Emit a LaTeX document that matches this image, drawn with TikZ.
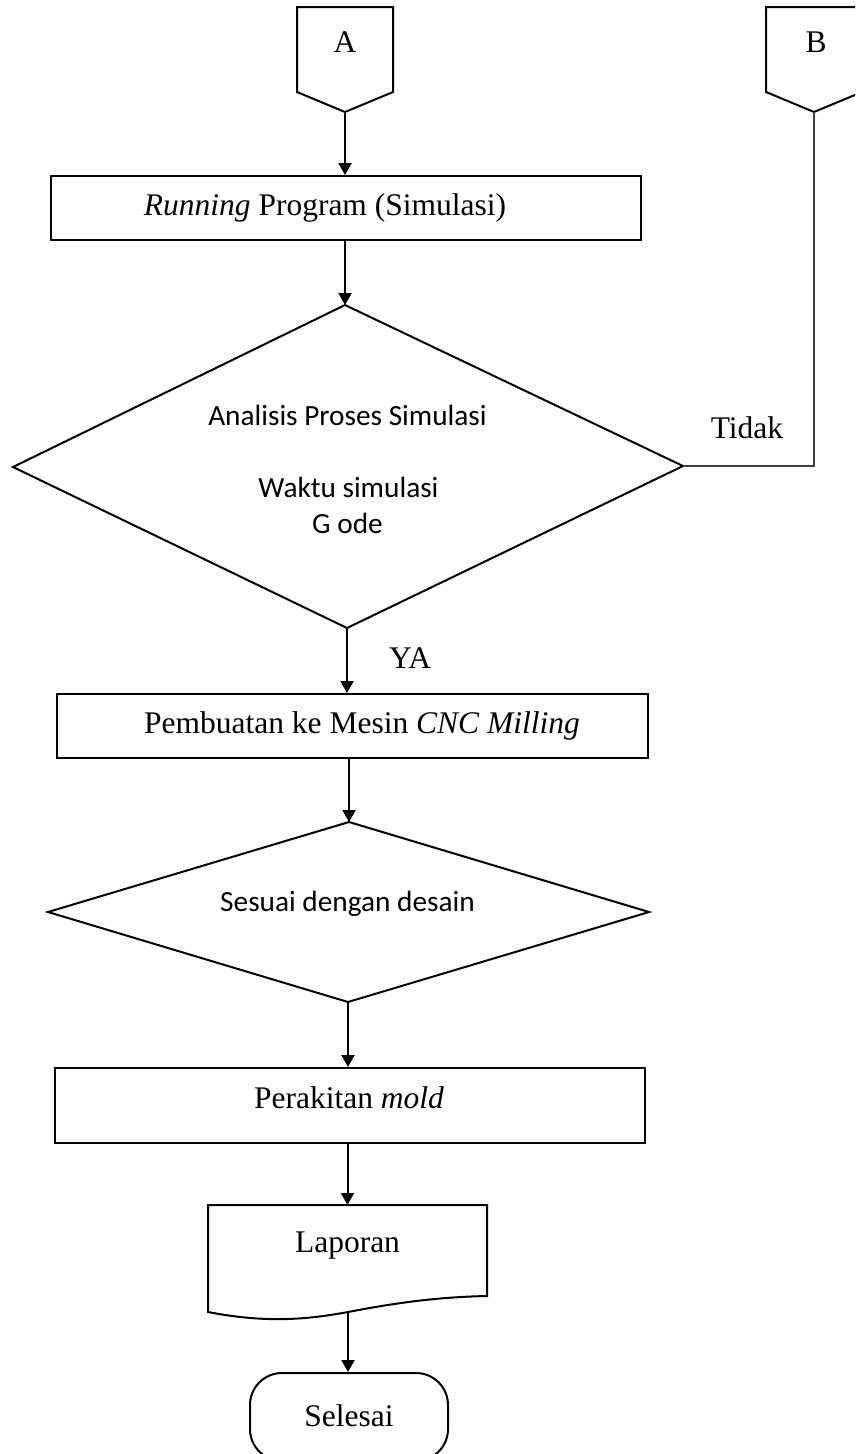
\documentclass[tikz,border=0pt]{standalone}
\usepackage{fontspec}
\setmainfont{Liberation Serif}
\newfontfamily\calibrifont{Carlito}
\usetikzlibrary{arrows.meta}
\begin{document}
\begin{tikzpicture}[x=1pt,y=-1pt,
  shapeline/.style={draw=black,line width=2pt,line join=miter},
  flow/.style={line width=2pt,-{Triangle[length=12pt,width=13pt]}},
  thinlink/.style={line width=1.1pt,draw=black!75},
  tnr/.style={font=\fontsize{31.5}{36}\selectfont,inner sep=0pt,anchor=base},
  cal/.style={font=\calibrifont\fontsize{29.3}{35}\selectfont,inner sep=0pt,anchor=base},
  procbox/.style={draw=black,line width=2pt,inner sep=0pt,anchor=north west},
  termbox/.style={draw=black,line width=2pt,inner sep=0pt,rounded corners=32pt,anchor=north}
]
\path[use as bounding box] (0,0) rectangle (855,1454);
\clip (0,0) rectangle (855,1454);

% off-page connector A
\coordinate (A1) at (297,7);
\coordinate (A2) at (393,7);
\coordinate (A3) at (393,92);
\coordinate (Apt) at (345,112);
\coordinate (A5) at (297,92);
\draw[shapeline] (A1) -- (A2) -- (A3) -- (Apt) -- (A5) -- cycle;
\node[tnr] (Alabel) at (345,52) {A};

% off-page connector B
\coordinate (B1) at (766,7);
\coordinate (B2) at (862,7);
\coordinate (B3) at (862,92);
\coordinate (Bpt) at (814,112);
\coordinate (B5) at (766,92);
\draw[shapeline] (B1) -- (B2) -- (B3) -- (Bpt) -- (B5) -- cycle;
\node[tnr] (Blabel) at (816,52) {B};

% box 1
\node[procbox,minimum width=590pt,minimum height=64pt] (box1) at (50,175) {};
\node[tnr] (t1) at (325,215) {\textit{Running} Program (Simulasi)};

% diamond 1
\coordinate (d1t) at (345,305);
\coordinate (d1r) at (683,466);
\coordinate (d1b) at (347,628);
\coordinate (d1l) at (13,467);
\draw[shapeline] (d1t) -- (d1r) -- (d1b) -- (d1l) -- cycle;
\node[cal] (t2a) at (347.5,425) {Analisis Proses Simulasi};
\node[cal] (t2b) at (348.5,497) {Waktu simulasi};
\node[cal] (t2c) at (347.5,533) {G ode};

% box 2
\node[procbox,minimum width=591pt,minimum height=64pt] (box2) at (56,693) {};
\node[tnr] (t3) at (362,733) {Pembuatan ke Mesin \textit{CNC Milling}};

% diamond 2
\coordinate (d2t) at (349,822);
\coordinate (d2r) at (649,912);
\coordinate (d2b) at (348,1002);
\coordinate (d2l) at (48,912);
\draw[shapeline] (d2t) -- (d2r) -- (d2b) -- (d2l) -- cycle;
\node[cal] (t4) at (347.5,911) {Sesuai dengan desain};

% box 3
\node[procbox,minimum width=590pt,minimum height=75pt] (box3) at (54,1067) {};
\node[tnr] (t5) at (349,1108) {Perakitan \textit{mold}};

% document
\coordinate (doctop) at (347.5,1205);
\coordinate (docbot) at (348,1312);
\draw[shapeline] (208,1205) -- (487,1205) -- (487,1296)
  .. controls (440,1297) and (400,1302) .. (docbot)
  .. controls (300,1321) and (260,1322) .. (208,1312) -- cycle;
\node[tnr] (t6) at (347.5,1252) {Laporan};

% terminal
\node[termbox,minimum width=198pt,minimum height=88pt] (term) at (349,1372) {};
\node[tnr] (t7) at (349,1426) {Selesai};

% connectors
\draw[flow] (Apt) -- (Apt |- box1.north);
\draw[flow] (d1t |- box1.south) -- (d1t);
\draw[thinlink] (Bpt) |- (d1r);
\node[tnr] (tidak) at (747,438) {Tidak};
\draw[flow] (d1b) -- (d1b |- box2.north);
\node[tnr] (ya) at (410,668) {YA};
\draw[flow] (d2t |- box2.south) -- (d2t);
\draw[flow] (d2b) -- (d2b |- box3.north);
\draw[flow] (doctop |- box3.south) -- (doctop);
\draw[flow] (docbot) -- (docbot |- term.north);
\end{tikzpicture}
\end{document}
